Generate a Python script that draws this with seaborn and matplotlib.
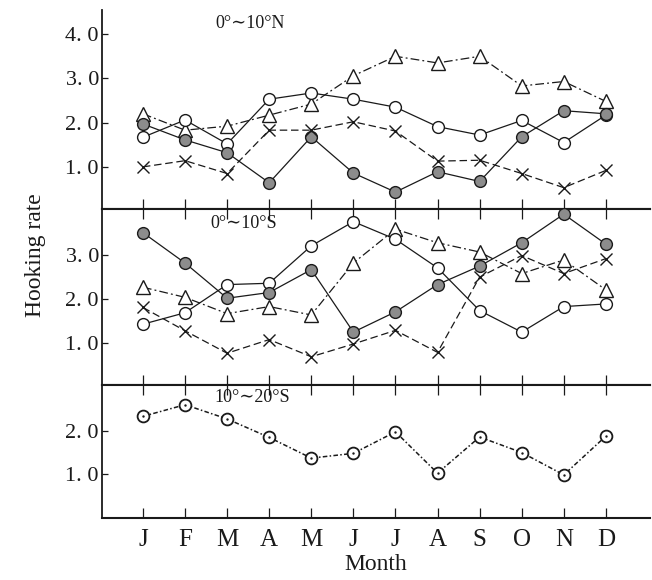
import matplotlib
matplotlib.use("Agg")
import matplotlib.pyplot as plt
import seaborn as sns
import numpy as np
import pandas as pd

sns.set_theme(style="white")
plt.rcParams['font.family'] = ['Liberation Serif', 'DejaVu Serif']

months = ["J", "F", "M", "A", "M", "J", "J", "A", "S", "O", "N", "D"]

# Panel 1: 0°~10°N
n_tri = [2.20, 1.83, 1.92, 2.17, 2.42, 3.06, 3.50, 3.35, 3.50, 2.83, 2.93, 2.48]
n_open = [1.67, 2.06, 1.52, 2.53, 2.67, 2.53, 2.35, 1.91, 1.72, 2.05, 1.55, 2.17]
n_fill = [1.97, 1.61, 1.32, 0.64, 1.68, 0.86, 0.43, 0.89, 0.67, 1.68, 2.27, 2.20]
n_x = [1.00, 1.14, 0.85, 1.83, 1.83, 2.02, 1.81, 1.13, 1.15, 0.85, 0.53, 0.92]

# Panel 2: 0°~10°S
s_fill = [3.51, 2.82, 2.02, 2.15, 2.67, 1.25, 1.71, 2.33, 2.75, 3.28, 3.93, 3.25]
s_open = [1.43, 1.69, 2.33, 2.36, 3.21, 3.76, 3.36, 2.71, 1.74, 1.25, 1.83, 1.89]
s_tri = [2.27, 2.04, 1.67, 1.83, 1.64, 2.82, 3.59, 3.28, 3.07, 2.58, 2.89, 2.21]
s_x = [1.81, 1.28, 0.77, 1.08, 0.69, 0.98, 1.29, 0.79, 2.50, 2.99, 2.58, 2.92]

# Panel 3: 10°~20°S
f_open = [2.34, 2.61, 2.28, 1.85, 1.37, 1.48, 1.98, 1.02, 1.86, 1.50, 0.98, 1.88]

panel_titles = ["0°∼10°N", "0°∼10°S", "10°∼20°S"]
yticks_list = [[1.0, 2.0, 3.0, 4.0], [1.0, 2.0, 3.0], [1.0, 2.0]]
ylims = [(0.05, 4.55), (0.05, 4.05), (-0.02, 3.07)]

fig = plt.figure(figsize=(6.52, 5.8), dpi=100)
gs = fig.add_gridspec(3, 1, height_ratios=[199, 176, 133], hspace=0,
                      left=0.156, right=0.997, top=0.983, bottom=0.107)
axes = [fig.add_subplot(gs[i]) for i in range(3)]

x = np.arange(12)
k = "#1a1a1a"
lw = 0.9

def draw(ax, vals, kind):
    df = pd.DataFrame({"m": x, "v": vals})
    if kind == "tri":
        sns.lineplot(data=df, x="m", y="v", ax=ax, color=k, lw=lw,
                     linestyle=(0, (7, 2.5, 1.5, 2.5)), marker="^", markersize=10,
                     markerfacecolor="white", markeredgecolor=k, markeredgewidth=1.0, zorder=3)
    elif kind == "open":
        sns.lineplot(data=df, x="m", y="v", ax=ax, color=k, lw=lw,
                     linestyle="-", marker="o", markersize=8.5,
                     markerfacecolor="white", markeredgecolor=k, markeredgewidth=1.0, zorder=3)
    elif kind == "fill":
        sns.lineplot(data=df, x="m", y="v", ax=ax, color=k, lw=lw,
                     linestyle="-", marker="o", markersize=8.5,
                     markerfacecolor="#8c8c8c", markeredgecolor=k, markeredgewidth=1.0, zorder=3)
    elif kind == "x":
        sns.lineplot(data=df, x="m", y="v", ax=ax, color=k, lw=lw,
                     linestyle=(0, (6, 3)), marker="x", markersize=8,
                     markeredgecolor=k, markeredgewidth=1.0, zorder=3)
    elif kind == "dot":
        sns.lineplot(data=df, x="m", y="v", ax=ax, color=k, lw=1.1,
                     linestyle=(0, (3, 1.5, 1, 1.5)), marker="o", markersize=8.5,
                     markerfacecolor="white", markeredgecolor=k, markeredgewidth=1.3, zorder=3)
        sns.scatterplot(data=df, x="m", y="v", ax=ax, color=k, s=3, zorder=4, linewidth=0)

draw(axes[0], n_tri, "tri")
draw(axes[0], n_open, "open")
draw(axes[0], n_fill, "fill")
draw(axes[0], n_x, "x")

draw(axes[1], s_tri, "tri")
draw(axes[1], s_open, "open")
draw(axes[1], s_fill, "fill")
draw(axes[1], s_x, "x")

draw(axes[2], f_open, "dot")

title_pos = [(2.55, 4.25), (2.4, 3.72), (2.6, 2.78)]
for i, ax in enumerate(axes):
    ax.set_xlim(-0.98, 12.05)
    ax.set_ylim(*ylims[i])
    ax.set_yticks(yticks_list[i])
    ax.set_yticklabels([f"{v:.0f}. 0" for v in yticks_list[i]])
    ax.set_xticks(x)
    ax.tick_params(axis="y", direction="in", length=4, width=0.9, pad=2,
                   labelsize=16, colors=k, left=True)
    ax.tick_params(axis="x", direction="in", length=7, width=0.9,
                   bottom=True, top=(i > 0), colors=k)
    ax.set_xlabel("")
    ax.set_ylabel("")
    ax.spines["right"].set_visible(False)
    ax.spines["left"].set_color(k)
    ax.spines["left"].set_linewidth(1.3)
    ax.spines["bottom"].set_color(k)
    ax.spines["bottom"].set_linewidth(1.5)
    ax.spines["top"].set_color(k)
    ax.spines["top"].set_linewidth(1.5)
    if i == 0:
        ax.spines["top"].set_visible(False)
    if i < 2:
        ax.set_xticklabels([])
    else:
        ax.set_xticklabels(months, fontsize=18)
        ax.tick_params(axis="x", pad=8)
    tx, ty = title_pos[i]
    ax.text(tx, ty, panel_titles[i], fontsize=13, color=k, ha="center", va="center",
            family=['Liberation Serif', 'DejaVu Serif'])
    ax.set_facecolor("white")

axes[2].set_xlabel("Month", fontsize=17, color=k, labelpad=2)
fig.text(0.055, 0.56, "Hooking rate", rotation=90, fontsize=17, color=k,
         ha="center", va="center")

fig.savefig("out.png", dpi=100, facecolor="white")
